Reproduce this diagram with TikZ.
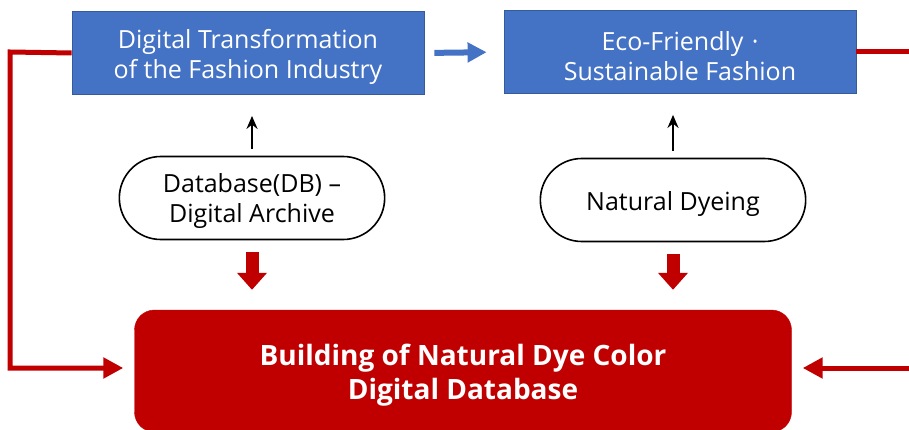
\documentclass[tikz,border=0pt]{standalone}
\usepackage{fontspec}
\setmainfont{Open Sans}
\usetikzlibrary{arrows.meta,shapes.misc}
\definecolor{boxblue}{HTML}{4472C4}
\definecolor{dyered}{HTML}{C00000}
\newcommand{\lowstrut}[1]{\rule{0pt}{#1}}
\begin{document}
\begin{tikzpicture}[x=1pt,y=-1pt,
	topbox/.style={draw=boxblue!80!black,line width=0.8pt,fill=boxblue,text=white,minimum width=352pt,minimum height=83pt,align=center,font=\fontsize{25}{30}\selectfont},
	pill/.style={draw,rounded rectangle,line width=1.6pt,fill=white,minimum width=272pt,minimum height=83pt,align=center,font=\fontsize{25}{30}\selectfont},
	loopline/.style={draw=dyered,line width=5pt},
	fat/.style={draw=dyered,line width=13pt,-{Triangle[length=17pt,width=29pt]}},
	uparrow/.style={line width=2.8pt,-{Stealth[length=13pt,width=11pt]},shorten <=7pt,shorten >=21pt}]
	\useasboundingbox (0,0) rectangle (909,430);
	\clip (0,0) rectangle (909,430);
	\node[topbox] (digit) at (248,53) {\lowstrut{27pt}Digital Transformation\\of the Fashion Industry};
	\node[topbox] (eco) at (680,52) {\lowstrut{27pt}Eco-Friendly\,\,·\\Sustainable Fashion};
	\node[pill] (archive) at (252,198) {\lowstrut{25pt}Database(DB) --\\Digital Archive};
	\node[pill] (dyeing) at (673,200) {\lowstrut{27pt}Natural Dyeing};
	\node[draw=dyered,fill=dyered,rounded corners=20pt,minimum width=657pt,minimum height=122pt,text=white,align=center,font=\fontsize{28}{34}\selectfont\bfseries] (ddb) at (463,371) {\lowstrut{29pt}Building of Natural Dye Color\\Digital Database};
	\coordinate (lt) at (10,52);
	\coordinate (lb) at (10,368);
	\coordinate (rt) at (909,52);
	\coordinate (rb) at (909,368);
	% blue arrow between the two topics
	\draw[boxblue,line width=6pt,-{Triangle[length=19pt,width=19pt]},shorten <=10pt,shorten >=17pt] (digit.east) -- (eco.west);
	% black arrows upward
	\draw[uparrow] (archive.north) -- (archive.north|-digit.south);
	\draw[uparrow] (dyeing.north) -- (dyeing.north|-eco.south);
	% fat red arrows into the database
	\draw[fat,shorten <=12pt,shorten >=20pt] (archive.south) -- (archive.south|-ddb.north);
	\draw[fat,shorten <=12pt,shorten >=20pt] (dyeing.south) -- (dyeing.south|-ddb.north);
	% red loops on both sides
	\draw[loopline,line join=miter,-{Triangle[length=20pt,width=20pt]},shorten >=11pt] (digit.west) -- (lt) -- (lb) -- (lb-|ddb.west);
	\draw[loopline] (eco.east) -- (rt);
	\draw[loopline,-{Triangle[length=20pt,width=20pt]},shorten >=11pt] (rb) -- (rb-|ddb.east);
\end{tikzpicture}
\end{document}
